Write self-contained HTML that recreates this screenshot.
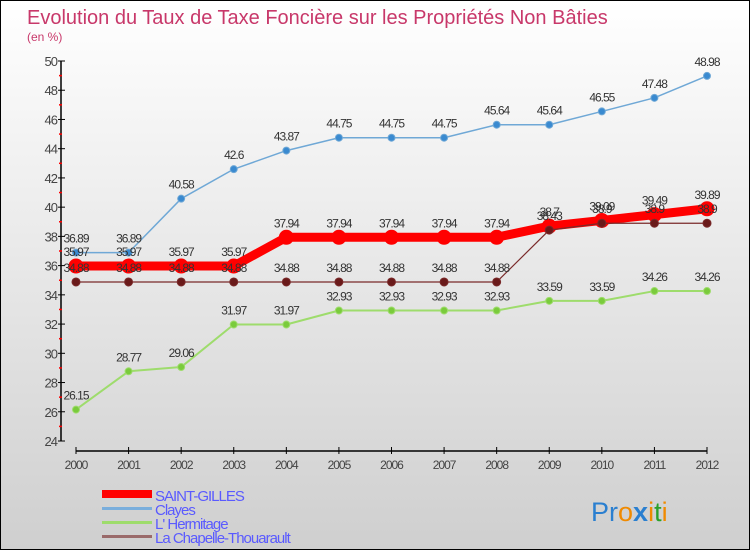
<!DOCTYPE html>
<html><head><meta charset="utf-8"><style>
html,body{margin:0;padding:0}
body{width:750px;height:550px;overflow:hidden}
#wrap{position:relative;width:748px;height:548px;border:1px solid #000;background:linear-gradient(#ffffff,#cfcfcf)}
svg{position:absolute;left:0;top:0}
text{font-family:"Liberation Sans",sans-serif}
</style></head><body>
<div id="wrap">
<svg id="chart" width="748" height="548">
<text x="26" y="23" font-size="20" fill="#c8386a">Evolution du Taux de Taxe Foncière sur les Propriétés Non Bâties</text>
<text x="26" y="40" font-size="12" fill="#c8386a">(en %)</text>
<text x="590" y="520" font-size="27"><tspan fill="#2a7fd0">Pr</tspan><tspan fill="#f08a00">o</tspan><tspan fill="#2a7fd0" font-weight="bold">x</tspan><tspan fill="#f08a00">i</tspan><tspan fill="#2aa02a">t</tspan><tspan fill="#f08a00">i</tspan></text>
</svg>
</div>
<script>
const years=["2000","2001","2002","2003","2004","2005","2006","2007","2008","2009","2010","2011","2012"];
const yTicks=[24,26,28,30,32,34,36,38,40,42,44,46,48,50];
const saintGilles=[35.97,35.97,35.97,35.97,37.94,37.94,37.94,37.94,37.94,38.7,39.09,39.49,39.89];
const clayes=[36.89,36.89,40.58,42.6,43.87,44.75,44.75,44.75,45.64,45.64,46.55,47.48,48.98];
const hermitage=[26.15,28.77,29.06,31.97,31.97,32.93,32.93,32.93,32.93,33.59,33.59,34.26,34.26];
const chapelle=[34.88,34.88,34.88,34.88,34.88,34.88,34.88,34.88,34.88,38.43,38.9,38.9,38.9];
const seriesNames=["SAINT-GILLES","Clayes","L' Hermitage","La Chapelle-Thouarault"];

const svg=document.getElementById('chart');
const NS='http://www.w3.org/2000/svg';
const x0=75,x1=706,yTop=60,yBot=440,vMin=24,vMax=50;
const xs=i=>x0+i*(x1-x0)/(years.length-1);
const ys=v=>yBot-(v-vMin)*(yBot-yTop)/(vMax-vMin);
function mk(tag,attrs){const e=document.createElementNS(NS,tag);for(const k in attrs)e.setAttribute(k,attrs[k]);svg.appendChild(e);return e;}

let ya=mk('line',{x1:60,y1:yTop,x2:60,y2:yBot,stroke:'#000','stroke-width':1.5});


yTicks.forEach(v=>{
  let t=mk('line',{x1:57,y1:ys(v),x2:64,y2:ys(v),stroke:'#000'});
  
  
  if(v<vMax){let m=mk('line',{x1:58,y1:ys(v+1),x2:61,y2:ys(v+1),stroke:'#f00','stroke-width':1.5});
  
  }
  let l=mk('text',{x:56,y:ys(v)+5,'font-size':13,fill:'#444','text-anchor':'end','letter-spacing':'-1'});
  l.textContent=v;
  
  
});
let xa=mk('line',{x1:x0,y1:450,x2:x1,y2:450,stroke:'#000','stroke-width':1.5});


years.forEach((y,i)=>{
  let t=mk('line',{x1:xs(i),y1:446,x2:xs(i),y2:453,stroke:'#000'});
  
  
  let l=mk('text',{x:xs(i),y:468,'font-size':12,fill:'#444','text-anchor':'middle','letter-spacing':'-1'});
  l.textContent=y;
  
  
});
function series(vals,color,w,r,name,dot){
  let p=mk('polyline',{points:vals.map((v,i)=>xs(i)+','+ys(v)).join(' '),fill:'none',stroke:color,'stroke-width':w,'stroke-linejoin':'round'});
  
  
  vals.forEach((v,i)=>{
    let c=mk('circle',{cx:xs(i),cy:ys(v),r:r,fill:dot,stroke:color,'stroke-width':1});
    
    
  });
}
function labels(vals,name){
  vals.forEach((v,i)=>{
    let l=mk('text',{x:xs(i),y:ys(v)-10,'font-size':12,fill:'#333','text-anchor':'middle','letter-spacing':'-1'});
    l.textContent=String(v);
    
    
  });
}
series(clayes,'#6fa8d6',1.5,3.5,'clayes','#3a8ad0');
series(hermitage,'#9edc6c',2,3.5,'hermitage','#7acb3c');
series(saintGilles,'#f00',9,7,'saint-gilles','#f00');
series(chapelle,'#7a2a2a',1.2,4,'chapelle','#6a1a1a');
labels(clayes,'clayes');labels(hermitage,'hermitage');labels(saintGilles,'saint-gilles');labels(chapelle,'chapelle');

const legColors=['#f00','#7aaedc','#9edc6c','#9a6a6a'];
seriesNames.forEach((n,i)=>{
  let y=493+i*14;
  let s=mk('rect',{x:101,y:i===0?y-4:y-1,width:50,height:i===0?8:3,fill:legColors[i]});
  
  
  let t=mk('text',{x:154,y:y+7,'font-size':15,fill:'#5a5aff','letter-spacing':'-1'});
  t.textContent=n;
  
  
});
</script>
</body></html>
